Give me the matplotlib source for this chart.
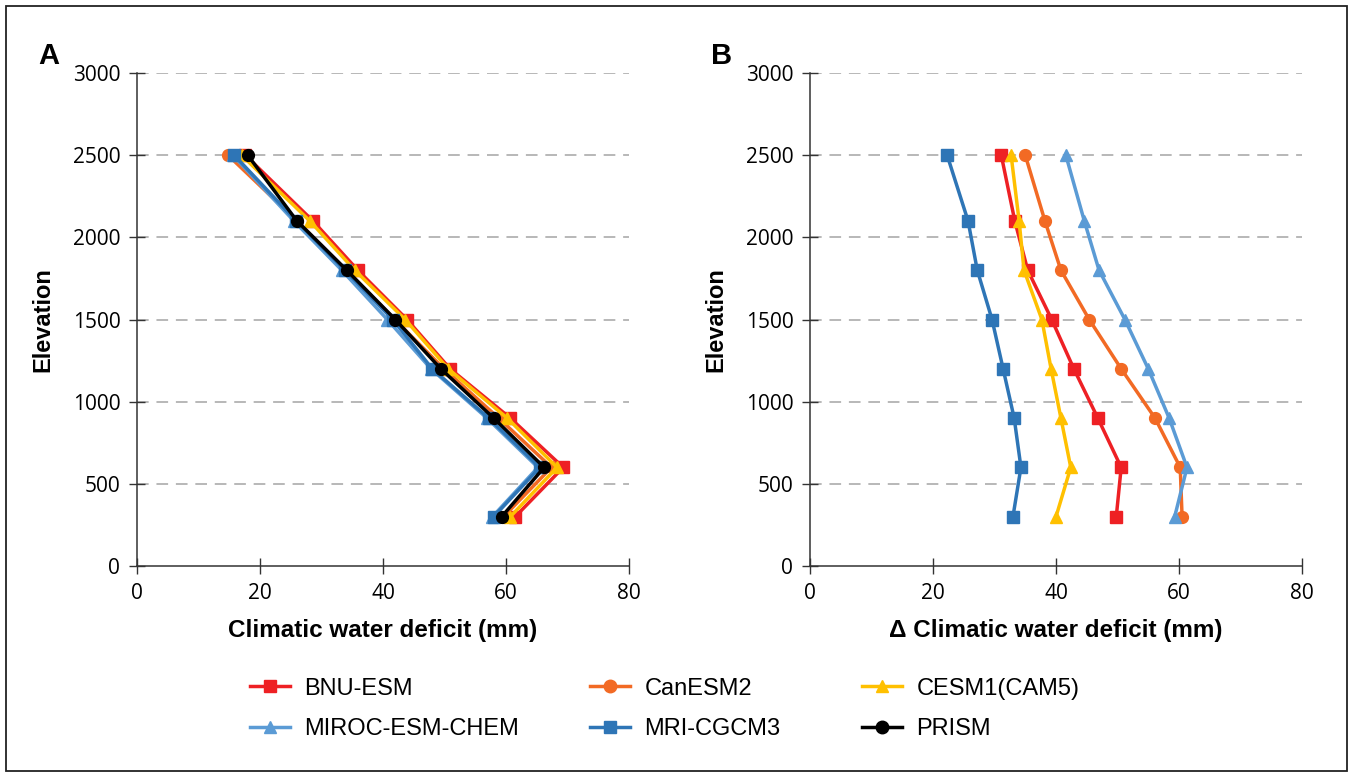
import matplotlib
matplotlib.use("Agg")
import matplotlib.pyplot as plt
from matplotlib.patches import Rectangle
from matplotlib.lines import Line2D

elevation = [2500, 2100, 1800, 1500, 1200, 900, 600, 300]
models = ["BNU-ESM", "CanESM2", "CESM1(CAM5)", "MIROC-ESM-CHEM", "MRI-CGCM3", "PRISM"]

# Panel A: climatic water deficit (mm)
cwd_bnu = [17.6, 28.6, 35.9, 43.9, 50.9, 60.7, 69.3, 61.5]
cwd_can = [14.8, 26.0, 34.0, 41.9, 49.9, 58.8, 67.4, 59.6]
cwd_cesm = [17.0, 28.1, 35.4, 43.6, 50.6, 60.2, 68.3, 60.7]
cwd_miroc = [15.6, 25.5, 33.3, 40.7, 47.8, 56.9, 65.2, 57.8]
cwd_mri = [15.8, 25.9, 33.8, 41.6, 48.0, 57.2, 65.5, 58.0]
cwd_prism = [18.0, 26.0, 34.1, 42.0, 49.4, 58.0, 66.2, 59.3]

# Panel B: change in climatic water deficit (mm)
d_bnu = [31.1, 33.3, 35.4, 39.3, 42.9, 46.8, 50.6, 49.8]
d_can = [35.0, 38.2, 40.8, 45.4, 50.6, 56.1, 60.2, 60.5]
d_cesm = [32.7, 34.0, 34.8, 37.7, 39.2, 40.8, 42.4, 40.0]
d_miroc = [41.6, 44.6, 47.0, 51.2, 55.0, 58.4, 61.3, 59.3]
d_mri = [22.3, 25.7, 27.2, 29.6, 31.4, 33.2, 34.3, 33.0]

xticks = [0, 20, 40, 60, 80]
yticks = [0, 500, 1000, 1500, 2000, 2500, 3000]

colors = {"BNU-ESM": "#EE2024", "CanESM2": "#F26A24", "CESM1(CAM5)": "#FFC000",
          "MIROC-ESM-CHEM": "#5B9BD5", "MRI-CGCM3": "#2E75B6", "PRISM": "#000000"}
markers = {"BNU-ESM": "s", "CanESM2": "o", "CESM1(CAM5)": "^",
           "MIROC-ESM-CHEM": "^", "MRI-CGCM3": "s", "PRISM": "o"}
msizes = {"BNU-ESM": 9, "CanESM2": 8.5, "CESM1(CAM5)": 9,
          "MIROC-ESM-CHEM": 9, "MRI-CGCM3": 9, "PRISM": 8.5}

fig = plt.figure(figsize=(13.49, 7.74), dpi=100)
fig.patches.append(Rectangle((6 / 1349, 1 - 771 / 774), 1341 / 1349, 765 / 774,
                             transform=fig.transFigure, fill=False,
                             edgecolor="#222222", linewidth=1.3))

axA = fig.add_axes([137 / 1349, 1 - 566 / 774, 492 / 1349, 493 / 774])
axB = fig.add_axes([810 / 1349, 1 - 566 / 774, 492 / 1349, 493 / 774])

dataA = [cwd_bnu, cwd_can, cwd_cesm, cwd_miroc, cwd_mri, cwd_prism]
dataB = [d_bnu, d_can, d_cesm, d_miroc, d_mri]

for ax, data, xlabel, letter in [(axA, dataA, "Climatic water deficit (mm)", "A"),
                                 (axB, dataB, "\u0394 Climatic water deficit (mm)", "B")]:
    for name, vals in zip(models, data):
        ax.plot(vals, elevation, color=colors[name], marker=markers[name],
                markersize=msizes[name], linewidth=2.5, clip_on=False)
    ax.set_xlim(0, 80)
    ax.set_ylim(0, 3000)
    ax.set_xticks(xticks)
    ax.set_yticks(yticks)
    ax.tick_params(direction="inout", length=12, width=1, color="#333333",
                   labelsize=15, pad=6)
    for lab in ax.get_xticklabels() + ax.get_yticklabels():
        lab.set_family("Open Sans")
    for s in ["top", "right"]:
        ax.spines[s].set_visible(False)
    for s in ["left", "bottom"]:
        ax.spines[s].set_color("#333333")
        ax.spines[s].set_linewidth(1.1)
    for yv in yticks[1:]:
        ax.axhline(yv, color="#B8B8B8", linewidth=1.4, linestyle=(0, (6, 4)), zorder=0)
    ax.set_xlabel(xlabel, fontsize=17.5, fontweight="bold", family="Liberation Sans", labelpad=11)
    ax.set_ylabel("Elevation", fontsize=17, fontweight="bold", family="Liberation Sans", labelpad=13)
    ax.text(-0.201, 1.035, letter, transform=ax.transAxes, fontsize=21, fontweight="bold",
            family="Liberation Sans", ha="left", va="center")

columns = [["BNU-ESM", "MIROC-ESM-CHEM"], ["CanESM2", "MRI-CGCM3"], ["CESM1(CAM5)", "PRISM"]]
col_x = [250, 590, 862]
for names, x0 in zip(columns, col_x):
    handles = [Line2D([], [], color=colors[n], marker=markers[n], markersize=9, linewidth=2.5)
               for n in names]
    leg = fig.legend(handles, names, loc="center left",
                     bbox_to_anchor=(x0 / 1349, 1 - 709 / 774),
                     frameon=False, prop={"family": "Liberation Sans", "size": 17},
                     handlelength=1.7, labelspacing=0.8, handletextpad=0.6,
                     borderpad=0, borderaxespad=0)

fig.savefig("out.png", dpi=100)
